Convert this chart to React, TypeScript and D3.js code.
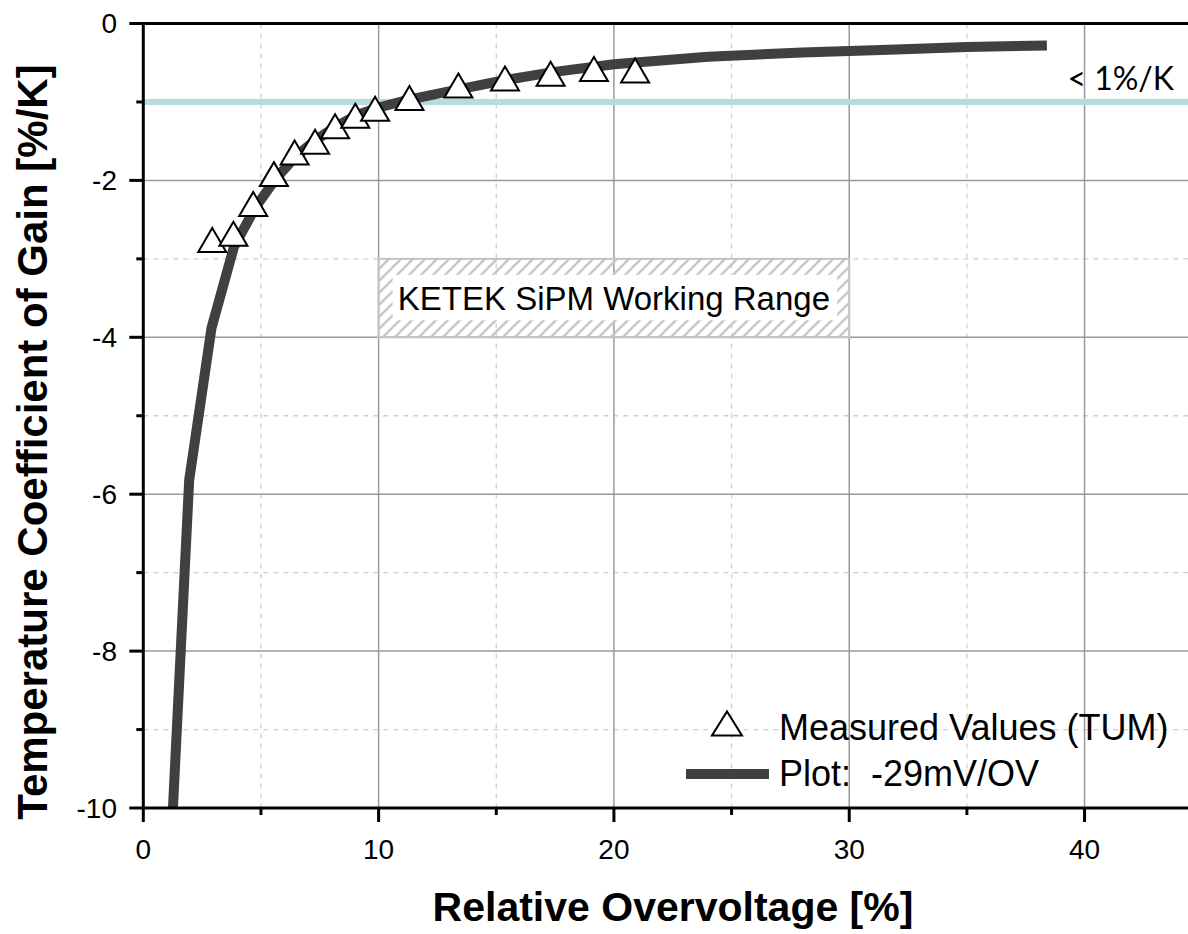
import React from "react";
import * as d3 from "d3";

// ---- data ----
const curveX = [1.26, 1.95, 2.9, 3.85, 4.75, 5.6, 6.45, 7.35, 8.2, 9.1, 10.0, 11.3, 13.4, 15.4, 17.4, 20, 24, 28, 32, 35, 38.4];
const curveY = [-10, -5.82, -3.88, -2.85, -2.35, -1.99, -1.7, -1.48, -1.31, -1.165, -1.07, -0.97, -0.84, -0.72, -0.62, -0.52, -0.425, -0.37, -0.33, -0.3, -0.28];

const measuredX = [2.93, 3.83, 4.67, 5.55, 6.43, 7.3, 8.15, 9.01, 9.85, 11.31, 13.39, 15.37, 17.31, 19.15, 20.9];
const measuredY = [-2.76, -2.68, -2.3, -1.92, -1.645, -1.507, -1.31, -1.176, -1.086, -0.95, -0.79, -0.7, -0.641, -0.58, -0.6];

const xMajorTicks = [0, 10, 20, 30, 40];
const xMinorTicks = [5, 15, 25, 35];
const yMajorTicks = [0, -2, -4, -6, -8, -10];
const yMinorTicks = [-1, -3, -5, -7, -9];

const thresholdY = -1;
const rangeBox = { x0: 10, x1: 30, y0: -4, y1: -3 };

const xTitle = "Relative Overvoltage [%]";
const yTitle = "Temperature Coefficient of Gain [%/K]";
const legendLabels = ["Measured Values (TUM)", "Plot:  -29mV/OV"];

export default function App() {
  const W = 1188, H = 934;
  const x = d3.scaleLinear().domain([0, 45]).range([143.3, 1202.2]);
  const y = d3.scaleLinear().domain([-10, 0]).range([808, 23.5]);
  const left = x(0), right = x(45), top = y(0), bottom = y(-10);

  const linePts: [number, number][] = curveX.map((v, i) => [v, curveY[i]]);
  const line = d3.line<[number, number]>().x(d => x(d[0])).y(d => y(d[1]));

  const tri = (cx: number, cy: number, w: number, h: number) =>
    `M${cx},${cy - h / 2}L${cx + w / 2},${cy + h / 2}L${cx - w / 2},${cy + h / 2}Z`;

  const font = "'Liberation Sans', Arial, sans-serif";
  const boxX0 = x(rangeBox.x0), boxX1 = x(rangeBox.x1), boxY0 = y(rangeBox.y1), boxY1 = y(rangeBox.y0);

  return (
    <svg width={W} height={H} style={{ position: "absolute", left: 0, top: 0, background: "#fff" }} fontFamily={font}>
      <defs>
        <pattern id="hatch" patternUnits="userSpaceOnUse" width={12} height={12}>
          <path d="M-3,3 l6,-6 M0,12 l12,-12 M9,15 l6,-6" stroke="#c8c8c8" strokeWidth={2.6} />
        </pattern>
      </defs>
      <rect x={0} y={0} width={W} height={H} fill="#fff" />

      {/* minor grid */}
      {xMinorTicks.map(t => (
        <line key={"gx" + t} x1={x(t)} x2={x(t)} y1={top} y2={bottom} stroke="#cfcfcf" strokeWidth={1.3} strokeDasharray="5,5" />
      ))}
      {yMinorTicks.map(t => (
        <line key={"gy" + t} x1={left} x2={right} y1={y(t)} y2={y(t)} stroke="#cfcfcf" strokeWidth={1.3} strokeDasharray="5,5" />
      ))}
      {/* major grid */}
      {xMajorTicks.filter(t => t !== 0).map(t => (
        <line key={"Gx" + t} x1={x(t)} x2={x(t)} y1={top} y2={bottom} stroke="#9a9a9a" strokeWidth={1.5} />
      ))}
      {yMajorTicks.filter(t => t !== 0 && t !== -10).map(t => (
        <line key={"Gy" + t} x1={left} x2={right} y1={y(t)} y2={y(t)} stroke="#9a9a9a" strokeWidth={1.5} />
      ))}

      {/* working range box */}
      <rect x={boxX0} y={boxY0} width={boxX1 - boxX0} height={boxY1 - boxY0} fill="url(#hatch)" stroke="#c4c4c4" strokeWidth={2} />
      <rect x={boxX0 + 14} y={boxY0 + 16} width={boxX1 - boxX0 - 26} height={boxY1 - boxY0 - 33} fill="#fff" />
      <text x={(boxX0 + boxX1) / 2} y={310} textAnchor="middle" fontSize={33} fill="#000">KETEK SiPM Working Range</text>

      {/* threshold */}
      <line x1={left} x2={W} y1={y(thresholdY)} y2={y(thresholdY)} stroke="#b7dce0" strokeWidth={6} />
      <text x={1174} y={90} textAnchor="end" fontSize={32} fontFamily="Lato, 'Open Sans', sans-serif" fill="#000">&lt; 1%/K</text>

      {/* curve */}
      <path d={line(linePts) || ""} fill="none" stroke="#404040" strokeWidth={10} strokeLinejoin="miter" />

      {/* measured */}
      {measuredX.map((v, i) => (
        <path key={"m" + i} d={tri(x(v), y(measuredY[i]), 28, 24)} fill="#fff" stroke="#000" strokeWidth={2} strokeLinejoin="miter" />
      ))}

      {/* axes */}
      <line x1={left - 1} x2={W} y1={top} y2={top} stroke="#000" strokeWidth={3} />
      <line x1={left} x2={left} y1={top - 1.5} y2={bottom + 1.5} stroke="#000" strokeWidth={3} />
      <line x1={left} x2={W} y1={bottom} y2={bottom} stroke="#000" strokeWidth={3} />
      {xMajorTicks.map(t => (
        <g key={"xt" + t}>
          <line x1={x(t)} x2={x(t)} y1={bottom} y2={bottom + 14} stroke="#000" strokeWidth={3} />
          <text x={x(t)} y={859} textAnchor="middle" fontSize={28} fill="#000">{t}</text>
        </g>
      ))}
      {xMinorTicks.map(t => (
        <line key={"xm" + t} x1={x(t)} x2={x(t)} y1={bottom} y2={bottom + 7} stroke="#000" strokeWidth={3} />
      ))}
      {yMajorTicks.map(t => (
        <g key={"yt" + t}>
          <line x1={left - 14} x2={left} y1={y(t)} y2={y(t)} stroke="#000" strokeWidth={3} />
          <text x={117} y={y(t)} dy="0.35em" textAnchor="end" fontSize={28} fill="#000">{t}</text>
        </g>
      ))}
      {yMinorTicks.map(t => (
        <line key={"ym" + t} x1={left - 7} x2={left} y1={y(t)} y2={y(t)} stroke="#000" strokeWidth={3} />
      ))}

      {/* titles */}
      <text x={673} y={921} textAnchor="middle" fontSize={41} fontWeight="bold" fill="#000">{xTitle}</text>
      <text transform="translate(47,442) rotate(-90)" textAnchor="middle" fontSize={42} fontWeight="bold" fill="#000">{yTitle}</text>

      {/* legend */}
      <path d={tri(727, 723.5, 30, 24)} fill="#fff" stroke="#000" strokeWidth={2} />
      <text x={779} y={740} fontSize={36} fill="#000">{legendLabels[0]}</text>
      <line x1={686} x2={769} y1={774} y2={774} stroke="#404040" strokeWidth={10} />
      <text x={779} y={786} fontSize={36} fill="#000" style={{ whiteSpace: "pre" }}>{legendLabels[1]}</text>
    </svg>
  );
}
